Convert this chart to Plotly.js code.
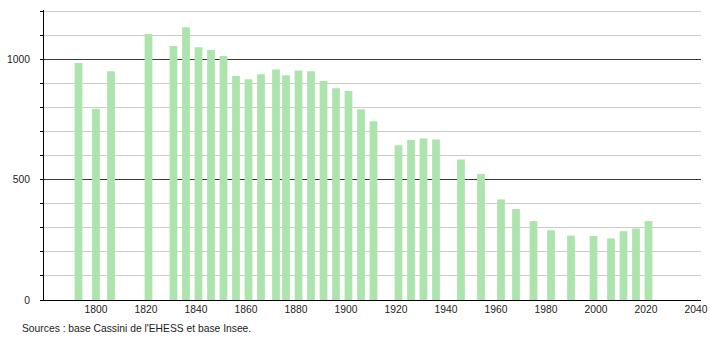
<!DOCTYPE html>
<html>
<head>
<meta charset="utf-8">
<script src="https://cdn.plot.ly/plotly-3.0.1.min.js"></script>
<style>html,body{margin:0;padding:0;background:#fff;}#chart{width:710px;height:340px;}</style>
</head>
<body>
<div id="chart"></div>
<script>
const years = [1793,1800,1806,1821,1831,1836,1841,1846,1851,1856,1861,1866,1872,1876,1881,1886,1891,1896,1901,1906,1911,1921,1926,1931,1936,1946,1954,1962,1968,1975,1982,1990,1999,2006,2011,2016,2021];
const population = [985,795,950,1105,1055,1133,1050,1039,1014,931,917,938,958,934,954,950,910,880,868,793,743,643,665,671,667,584,523,418,378,328,290,268,266,256,286,297,328];
const xTickVals = [1800,1820,1840,1860,1880,1900,1920,1940,1960,1980,2000,2020,2040];
const yTickVals = [0,500,1000];
const sourceText = "Sources : base Cassini de l'EHESS et base Insee.";

const trace = {
  type: 'bar',
  x: years,
  y: population,
  width: 3.1,
  marker: {color: '#ade3ad', line: {width: 0}},
  hoverinfo: 'x+y'
};

const layout = {
  width: 710,
  height: 340,
  margin: {l: 44, r: 9, t: 10, b: 40},
  paper_bgcolor: '#ffffff',
  plot_bgcolor: '#ffffff',
  font: {family: 'Liberation Sans, Arial, sans-serif', size: 10.3, color: '#222'},
  showlegend: false,
  xaxis: {
    range: [1779.2, 2042],
    tickvals: xTickVals,
    ticktext: xTickVals.map(String),
    ticks: '',
    showgrid: false,
    zeroline: false,
    showline: true,
    linecolor: '#000',
    linewidth: 1,
    tickfont: {size: 10.3, color: '#222'}
  },
  yaxis: {
    range: [0, 1205],
    tickvals: yTickVals,
    ticktext: yTickVals.map(String),
    ticks: 'outside',
    ticklen: 3,
    tickcolor: '#000',
    showgrid: true,
    gridcolor: '#3a3a3a',
    gridwidth: 1,
    zeroline: false,
    showline: true,
    linecolor: '#000',
    linewidth: 1,
    ticklabelstandoff: 8,
    tickfont: {size: 10.3, color: '#222'},
    minor: {
      dtick: 100,
      tick0: 0,
      showgrid: true,
      gridcolor: '#cccccc',
      gridwidth: 1,
      ticks: 'outside',
      ticklen: 3,
      tickcolor: '#000'
    }
  },
  annotations: [{
    xref: 'paper', yref: 'paper',
    x: (20 - 44) / 657, y: (300 - 328) / 290,
    xanchor: 'left', yanchor: 'middle',
    text: sourceText,
    showarrow: false,
    font: {size: 10.3, color: '#222'}
  }]
};

Plotly.newPlot('chart', [trace], layout, {displayModeBar: false, staticPlot: true});
</script>
</body>
</html>
